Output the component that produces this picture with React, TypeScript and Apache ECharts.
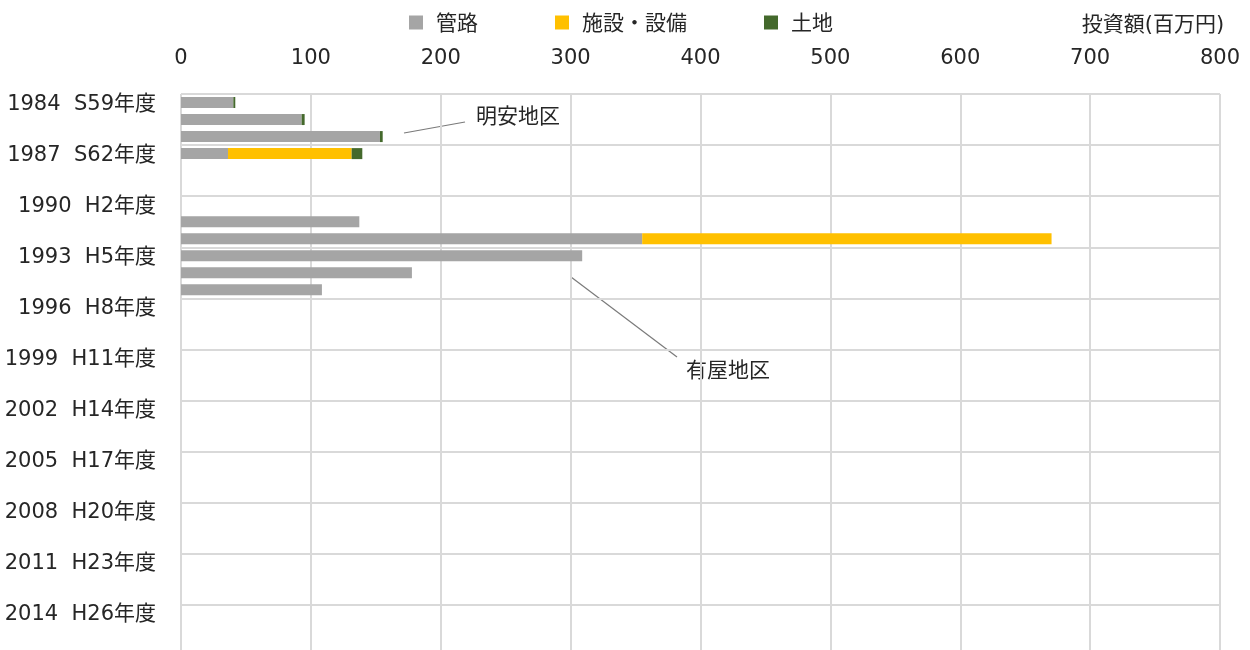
import React, { useEffect, useRef } from "react";
import * as echarts from "echarts";

const categories: string[] = [
  "1984  S59年度", "1985  S60年度", "1986  S61年度",
  "1987  S62年度", "1988  S63年度", "1989  H1年度",
  "1990  H2年度", "1991  H3年度", "1992  H4年度",
  "1993  H5年度", "1994  H6年度", "1995  H7年度",
  "1996  H8年度", "1997  H9年度", "1998  H10年度",
  "1999  H11年度", "2000  H12年度", "2001  H13年度",
  "2002  H14年度", "2003  H15年度", "2004  H16年度",
  "2005  H17年度", "2006  H18年度", "2007  H19年度",
  "2008  H20年度", "2009  H21年度", "2010  H22年度",
  "2011  H23年度", "2012  H24年度", "2013  H25年度",
  "2014  H26年度", "2015  H27年度", "2016  H28年度",
];

const pipes: number[] = [
  40.3, 92.9, 153.2, 36.2, 0, 0, 0, 137.3, 355.1, 308.9, 177.8, 108.5,
  0, 0, 0, 0, 0, 0, 0, 0, 0, 0, 0, 0, 0, 0, 0, 0, 0, 0, 0, 0, 0,
];
const facilities: number[] = [
  0, 0, 0, 95.2, 0, 0, 0, 0, 315.2, 0, 0, 0,
  0, 0, 0, 0, 0, 0, 0, 0, 0, 0, 0, 0, 0, 0, 0, 0, 0, 0, 0, 0, 0,
];
const land: number[] = [
  1.5, 2.3, 2.1, 8.2, 0, 0, 0, 0, 0, 0, 0, 0,
  0, 0, 0, 0, 0, 0, 0, 0, 0, 0, 0, 0, 0, 0, 0, 0, 0, 0, 0, 0, 0,
];

const seriesNames = ["管路", "施設・設備", "土地"];
const seriesColors = ["#A5A5A5", "#FFC000", "#44692C"];
const xTicks = { min: 0, max: 800, interval: 100 };
const axisTitle = "投資額(百万円)";

const FONT = "'DejaVu Sans', 'Noto Sans CJK JP', sans-serif";
const FS = 21;
const TXT = "#262626";

export default function App() {
  const ref = useRef<HTMLDivElement>(null);
  useEffect(() => {
    document.body.style.margin = "0";
    const chart = echarts.init(ref.current!, null, { renderer: "svg" });
    const values = [pipes, facilities, land];
    const nz = (arr: number[]) => arr.map((v) => (v === 0 ? null : v));
    chart.setOption({
      animation: false,
      textStyle: { fontFamily: FONT, color: TXT },
      legend: {
        left: 409,
        top: 12,
        padding: 0,
        icon: "rect",
        itemWidth: 14,
        itemHeight: 14,
        itemGap: 77,
        textStyle: { fontSize: FS, color: TXT, fontFamily: FONT, padding: [0, 0, 0, 8] },
        data: seriesNames,
      },
      grid: { left: 181, top: 94, width: 1039, height: 562, containLabel: false },
      xAxis: {
        type: "value",
        position: "top",
        min: xTicks.min,
        max: xTicks.max,
        interval: xTicks.interval,
        axisLine: { show: false },
        axisTick: { show: false },
        axisLabel: { fontSize: FS, color: TXT, margin: 27, fontFamily: FONT },
        splitLine: { show: true, lineStyle: { color: "#D9D9D9", width: 2 } },
      },
      yAxis: {
        type: "category",
        inverse: true,
        data: categories,
        axisLine: { show: false },
        axisTick: { show: false },
        axisLabel: { interval: 2, fontSize: FS, color: TXT, margin: 25, fontFamily: FONT },
        splitLine: { show: true, interval: 2, lineStyle: { color: "#D9D9D9", width: 2 } },
      },
      series: seriesNames.map((name, i) => ({
        name,
        type: "bar",
        stack: "total",
        barWidth: 11,
        itemStyle: { color: seriesColors[i] },
        data: nz(values[i]),
      })),
      graphic: [
        {
          type: "line",
          shape: { x1: 404, y1: 133, x2: 465, y2: 122 },
          style: { stroke: "#7A7A7A", lineWidth: 1.2 },
        },
        {
          type: "text",
          x: 476,
          y: 116,
          style: { text: "明安地区", font: `${FS}px ${FONT}`, fill: TXT, verticalAlign: "middle" },
        },
        {
          type: "line",
          shape: { x1: 571, y1: 277, x2: 677, y2: 357 },
          style: { stroke: "#7A7A7A", lineWidth: 1.2 },
        },
        {
          type: "text",
          x: 686,
          y: 370,
          style: { text: "有屋地区", font: `${FS}px ${FONT}`, fill: TXT, verticalAlign: "middle" },
        },
        {
          type: "text",
          x: 1153,
          y: 24,
          style: { text: axisTitle, font: `${FS}px ${FONT}`, fill: TXT, verticalAlign: "middle", align: "center" },
        },
      ],
    });
    return () => chart.dispose();
  }, []);
  return (
    <div
      ref={ref}
      style={{ position: "fixed", left: 0, top: 0, width: 1250, height: 662 }}
    />
  );
}
